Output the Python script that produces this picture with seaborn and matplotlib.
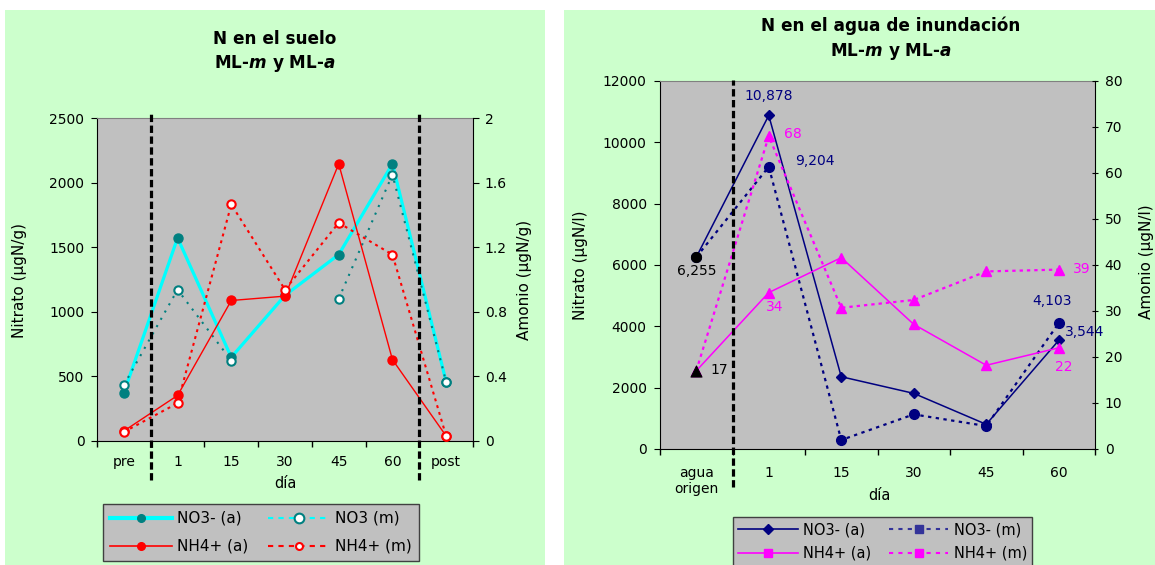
import numpy as np
import pandas as pd
import matplotlib
matplotlib.use("Agg")
import matplotlib.pyplot as plt
from matplotlib.lines import Line2D
from matplotlib.patches import Rectangle
import seaborn as sns

# ---------------- data ----------------
soil_days = ["pre", "1", "15", "30", "45", "60", "post"]
soil_no3_a = [373, 1572, 648, 1127, 1443, 2145, 458]
soil_no3_m = [433, 1171, 622, np.nan, 1101, 2062, 458]
soil_nh4_a = [0.062, 0.282, 0.870, 0.897, 1.716, 0.504, 0.031]
soil_nh4_m = [0.056, 0.234, 1.465, 0.937, 1.351, 1.154, 0.031]

water_days = ["agua\norigen", "1", "15", "30", "45", "60"]
water_no3_a = [6255, 10878, 2357, 1814, 804, 3544]
water_no3_m = [6255, 9204, 293, 1129, 749, 4103]
water_nh4_a = [17, 34, 41.6, 27.1, 18.2, 22]
water_nh4_m = [17, 68, 30.7, 32.4, 38.6, 39]

soil_ticks_left = [0, 500, 1000, 1500, 2000, 2500]
soil_ticks_right = [0, 0.4, 0.8, 1.2, 1.6, 2.0]
water_ticks_left = [0, 2000, 4000, 6000, 8000, 10000, 12000]
water_ticks_right = [0, 10, 20, 30, 40, 50, 60, 70, 80]

# ---------------- style ----------------
plt.rcParams['font.family'] = ['DejaVu Sans']
plt.rcParams['mathtext.fontset'] = 'custom'
plt.rcParams['mathtext.it'] = 'DejaVu Sans:italic:bold'
plt.rcParams['mathtext.rm'] = 'DejaVu Sans:bold'
plt.rcParams['mathtext.bf'] = 'DejaVu Sans:bold'

W, H = 1155, 565
fig = plt.figure(figsize=(W / 100, H / 100), dpi=100, facecolor='white')

GREEN = '#CCFFCC'
GRAY = '#C0C0C0'
TEAL = '#008080'
CYAN = '#00FFFF'
RED = '#FF0000'
NAVY = '#000080'
MAG = '#FF00FF'


def fy(y):
    return 1 - y / H


def axes_px(x0, y0, x1, y1):
    return fig.add_axes([x0 / W, 1 - y1 / H, (x1 - x0) / W, (y1 - y0) / H])


def draw(ax, ys, **kw):
    s = pd.Series(ys, dtype=float)
    seg = s.isna().cumsum()
    df = pd.DataFrame({"x": np.arange(len(s)), "y": s, "seg": seg}).dropna()
    for _, d in df.groupby("seg"):
        sns.lineplot(data=d, x="x", y="y", ax=ax, estimator=None, sort=False, **kw)


# panel backgrounds
fig.patches.append(Rectangle((5 / W, 0), (545 - 5) / W, 1 - 10 / H, transform=fig.transFigure,
                             facecolor=GREEN, edgecolor='none', zorder=-5))
fig.patches.append(Rectangle((564 / W, 0), (1155 - 564) / W, 1 - 10 / H, transform=fig.transFigure,
                             facecolor=GREEN, edgecolor='none', zorder=-5))


def style_axes(ax1, ax2, n, labels, lticks, rticks, rlabels, right_dir, xpad):
    ax1.set_facecolor(GRAY)
    ax1.set_xlim(-0.5, n - 0.5)
    ax1.set_xticks(np.arange(n))
    ax1.set_xticklabels(labels, fontsize=10)
    ax1.set_xticks(np.arange(-0.5, n, 1), minor=True)
    ax1.tick_params(axis='x', which='major', length=0, pad=xpad)
    ax1.tick_params(axis='x', which='minor', length=4, direction='out', width=1)
    ax1.set_ylim(lticks[0], lticks[-1])
    ax1.set_yticks(lticks)
    ax1.set_yticklabels([str(t) for t in lticks], fontsize=10)
    ax1.tick_params(axis='y', length=4, direction='out', pad=5)
    ax2.set_ylim(rticks[0], rticks[-1])
    ax2.set_yticks(rticks)
    ax2.set_yticklabels(rlabels, fontsize=10)
    ax2.tick_params(axis='y', length=5 if right_dir == 'inout' else 4, direction=right_dir, pad=4.5)
    for a in (ax1, ax2):
        a.set_xlabel('')
        a.set_ylabel('')
        a.grid(False)
    ax1.spines['top'].set_color('#808080')
    ax1.spines['right'].set_visible(False)
    ax1.spines['left'].set_color('black')
    ax1.spines['bottom'].set_color('black')
    for s in ('top', 'left', 'bottom'):
        ax2.spines[s].set_visible(False)
    ax2.spines['right'].set_color('black')


# ================= left panel =================
axL = axes_px(97, 118, 473, 441)
axL2 = axL.twinx()

draw(axL, soil_no3_a, color=CYAN, linewidth=2.3, marker='o', markersize=6.5,
     markerfacecolor=TEAL, markeredgecolor=TEAL, markeredgewidth=1)
draw(axL, soil_no3_m, color=TEAL, linewidth=1.5, linestyle=(0, (1, 3)), marker='o', markersize=6,
     markerfacecolor='white', markeredgecolor=TEAL, markeredgewidth=1.5)
draw(axL2, soil_nh4_a, color=RED, linewidth=1.0, marker='o', markersize=6.5,
     markerfacecolor=RED, markeredgecolor=RED, markeredgewidth=1)
draw(axL2, soil_nh4_m, color=RED, linewidth=1.5, linestyle=(0, (1.4, 2)), marker='o', markersize=6,
     markerfacecolor='white', markeredgecolor=RED, markeredgewidth=1.5)

style_axes(axL, axL2, len(soil_days), soil_days, soil_ticks_left, soil_ticks_right,
           [f"{t:g}" for t in soil_ticks_right], 'out', 10)

for xb in (0.5, len(soil_days) - 1.5):
    axL2.axvline(xb, ymin=(441 - 480) / 323, ymax=(441 - 113) / 323, clip_on=False,
                 color='black', linewidth=2.3, linestyle=(0, (2.3, 1.1)), zorder=6)

fig.text(275 / W, fy(39), "N en el suelo", ha='center', va='center', fontsize=12.2, fontweight='bold')
fig.text(275 / W, fy(63), r"ML-$\mathit{m}$ y ML-$\mathit{a}$", ha='center', va='center',
         fontsize=12.2, fontweight='bold')
fig.text(20 / W, fy(280), "Nitrato (µgN/g)", rotation=90, ha='center', va='center', fontsize=11)
fig.text(525 / W, fy(280), "Amonio (µgN/g)", rotation=90, ha='center', va='center', fontsize=11)
fig.text(285 / W, fy(484), "día", ha='center', va='center', fontsize=10.5)

hL = [
    Line2D([], [], color=CYAN, lw=3, marker='o', ms=5.5, mfc=TEAL, mec=TEAL),
    Line2D([], [], color=RED, lw=1.2, marker='o', ms=5.5, mfc=RED, mec=RED),
    Line2D([], [], color=CYAN, lw=1.5, ls=(0, (2.5, 2.5)), marker='o', ms=7, mfc='white', mec=TEAL, mew=1.5),
    Line2D([], [], color=RED, lw=1.5, ls=(0, (2.5, 2.5)), marker='o', ms=5, mfc='white', mec=RED, mew=1.5),
]
legL = fig.legend(handles=hL, labels=["NO3- (a)", "NH4+ (a)", "NO3 (m)", "NH4+ (m)"],
                  loc='upper left', bbox_to_anchor=(103 / W, fy(504)), bbox_transform=fig.transFigure,
                  ncol=2, fontsize=11, handlelength=4.05, handletextpad=0.35, columnspacing=1.3,
                  labelspacing=0.85, borderpad=0.45, borderaxespad=0, frameon=True, fancybox=False,
                  edgecolor='#404040', facecolor=GRAY, framealpha=1)
legL.get_frame().set_linewidth(1)

# ================= right panel =================
axR = axes_px(660, 81, 1095, 449)
axR2 = axR.twinx()

draw(axR, water_no3_a, color=NAVY, linewidth=1.1, marker='D', markersize=5.5,
     markerfacecolor=NAVY, markeredgecolor=NAVY, markeredgewidth=1)
draw(axR, water_no3_m, color=NAVY, linewidth=1.6, linestyle=(0, (1.5, 2)), marker='o', markersize=7,
     markerfacecolor=NAVY, markeredgecolor=NAVY, markeredgewidth=1)
draw(axR2, water_nh4_a, color=MAG, linewidth=1.1, marker='^', markersize=7.5,
     markerfacecolor=MAG, markeredgecolor=MAG, markeredgewidth=1)
draw(axR2, water_nh4_m, color=MAG, linewidth=1.6, linestyle=(0, (1.5, 1.8)), marker='^', markersize=7.5,
     markerfacecolor=MAG, markeredgecolor=MAG, markeredgewidth=1)

# origin-water points in black
sns.scatterplot(x=[0], y=[water_no3_a[0]], ax=axR, color='black', marker='o', s=55, edgecolor='black', zorder=5)
sns.scatterplot(x=[0], y=[water_nh4_a[0]], ax=axR2, color='black', marker='^', s=65, edgecolor='black', zorder=5)

style_axes(axR, axR2, len(water_days), water_days, water_ticks_left, water_ticks_right,
           [str(t) for t in water_ticks_right], 'inout', 12)
axR.tick_params(axis='y', pad=5.5)
axR2.tick_params(axis='y', pad=4.5)

axR2.axvline(0.5, ymin=(449 - 487) / 368, ymax=(449 - 80) / 368, clip_on=False,
             color='black', linewidth=2.3, linestyle=(0, (2.3, 1.1)), zorder=6)


def lab(ax, x, y, text, dx, dy, color, ha='center'):
    ax.annotate(text, xy=(x, y), xytext=(dx * 0.72, dy * 0.72), textcoords='offset points',
                ha=ha, va='center', color=color, fontsize=10, zorder=7)


last = len(water_days) - 1
lab(axR, 0, water_no3_a[0], f"{water_no3_a[0]:,}", 0, -14, 'black')
lab(axR2, 0, water_nh4_a[0], f"{water_nh4_a[0]:g}", 14, 1, 'black', 'left')
lab(axR, 1, water_no3_a[1], f"{water_no3_a[1]:,}", 0, 19, NAVY)
lab(axR, 1, water_no3_m[1], f"{water_no3_m[1]:,}", 26, 6, NAVY, 'left')
lab(axR2, 1, water_nh4_m[1], f"{water_nh4_m[1]:g}", 15, 2, MAG, 'left')
lab(axR2, 1, water_nh4_a[1], f"{water_nh4_a[1]:g}", 6, -14, MAG)
lab(axR, last, water_no3_m[last], f"{water_no3_m[last]:,}", -7, 22, NAVY)
lab(axR, last, water_no3_a[last], f"{water_no3_a[last]:,}", 6, 8, NAVY, 'left')
lab(axR2, last, water_nh4_m[last], f"{water_nh4_m[last]:g}", 14, 1, MAG, 'left')
lab(axR2, last, water_nh4_a[last], f"{water_nh4_a[last]:g}", 5, -19, MAG)

fig.text(891 / W, fy(26), "N en el agua de inundación", ha='center', va='center', fontsize=12.2,
         fontweight='bold')
fig.text(891 / W, fy(52), r"ML-$\mathit{m}$ y ML-$\mathit{a}$", ha='center', va='center',
         fontsize=12.2, fontweight='bold')
fig.text(580 / W, fy(265), "Nitrato (µgN/l)", rotation=90, ha='center', va='center', fontsize=11)
fig.text(1147 / W, fy(262), "Amonio (µgN/l)", rotation=90, ha='center', va='center', fontsize=11)
fig.text(879 / W, fy(495), "día", ha='center', va='center', fontsize=10.5)

hR = [
    Line2D([], [], color=NAVY, lw=1.2, marker='D', ms=5.5, mfc=NAVY, mec=NAVY),
    Line2D([], [], color=MAG, lw=1.2, marker='s', ms=6, mfc=MAG, mec=MAG),
    Line2D([], [], color='#333399', lw=1.5, ls=(0, (2, 2.5)), marker='s', ms=6, mfc='#333399', mec='#333399'),
    Line2D([], [], color=MAG, lw=1.5, ls=(0, (2, 2.5)), marker='s', ms=6, mfc=MAG, mec=MAG),
]
legR = fig.legend(handles=hR, labels=["NO3- (a)", "NH4+ (a)", "NO3- (m)", "NH4+ (m)"],
                  loc='upper left', bbox_to_anchor=(733 / W, fy(517)), bbox_transform=fig.transFigure,
                  ncol=2, fontsize=10.5, handlelength=4.1, handletextpad=0.35, columnspacing=1.2,
                  labelspacing=0.6, borderpad=0.35, borderaxespad=0, frameon=True, fancybox=False,
                  edgecolor='#404040', facecolor=GRAY, framealpha=1)
legR.get_frame().set_linewidth(1)

fig.savefig("out.png", dpi=100, facecolor='white')
